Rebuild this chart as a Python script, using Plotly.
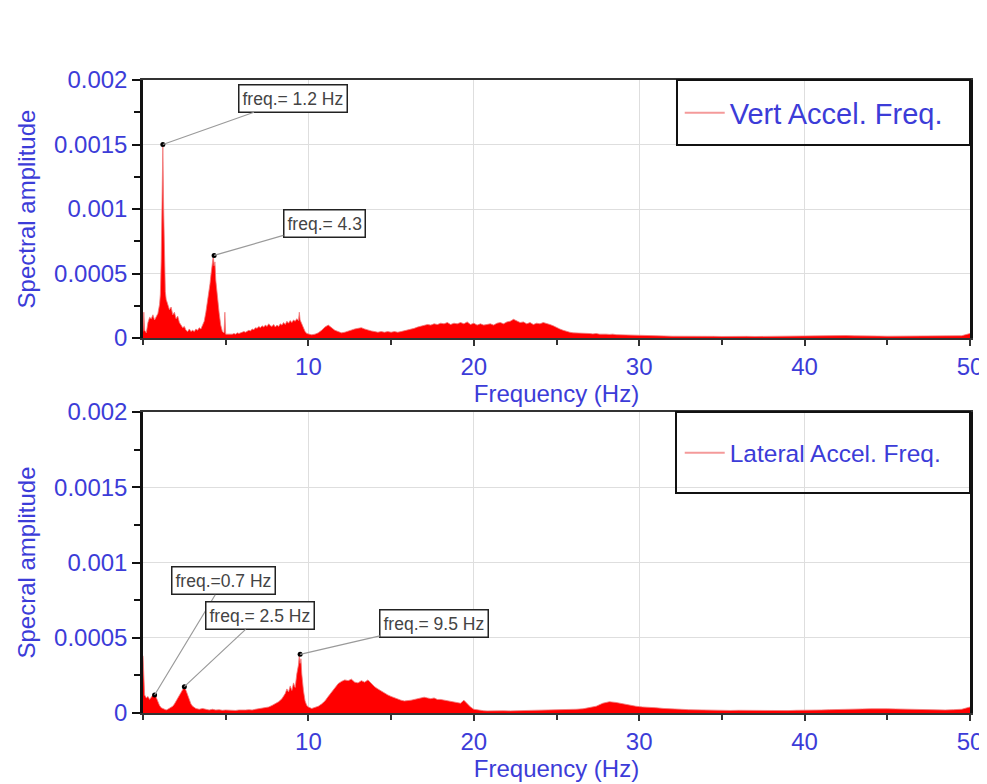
import plotly.graph_objects as go

# ---------------- data (amplitudes in units of 1e-4) ----------------
vert_freq = [
    0.0, 0.05, 0.1, 0.2, 0.3, 0.4, 0.5, 0.6, 0.7, 0.8, 0.9, 1.0, 1.05, 1.1, 1.15, 1.2, 1.25, 1.3, 1.35, 1.4,
    1.5, 1.6, 1.7, 1.8, 1.9, 2.0, 2.1, 2.2, 2.3, 2.4, 2.5, 2.6, 2.7, 2.8, 2.9, 3.0, 3.1, 3.2, 3.3, 3.4,
    3.5, 3.6, 3.7, 3.8, 3.9, 4.0, 4.05, 4.1, 4.15, 4.2, 4.25, 4.3, 4.35, 4.4, 4.5, 4.6, 4.7, 4.8, 4.9, 4.95,
    5.0, 5.1, 5.2, 5.3, 5.4, 5.5, 5.6, 5.7, 5.8, 5.9, 6.0, 6.1, 6.2, 6.3, 6.4, 6.5, 6.6, 6.7, 6.8, 6.9,
    7.0, 7.1, 7.2, 7.3, 7.4, 7.5, 7.6, 7.7, 7.8, 7.9, 8.0, 8.1, 8.2, 8.3, 8.4, 8.5, 8.6, 8.7, 8.8, 8.9,
    9.0, 9.1, 9.2, 9.3, 9.4, 9.45, 9.5, 9.6, 9.7, 9.8, 9.9, 10.0,
    10.2, 10.4, 10.6, 10.8, 11.0, 11.2, 11.4, 11.6, 11.8, 12.0, 12.2, 12.4, 12.6, 12.8, 13.0, 13.2, 13.4, 13.6, 13.8, 14.0,
    14.2, 14.4, 14.6, 14.8, 15.0, 15.2, 15.4, 15.6, 15.8, 16.0, 16.2, 16.4, 16.6, 16.8, 17.0, 17.2, 17.4, 17.6, 17.8, 18.0,
    18.2, 18.4, 18.6, 18.8, 19.0, 19.2, 19.4, 19.6, 19.8, 20.0, 20.2, 20.4, 20.6, 20.8, 21.0, 21.2, 21.4, 21.6, 21.8, 22.0,
    22.2, 22.4, 22.6, 22.8, 23.0, 23.2, 23.4, 23.6, 23.8, 24.0, 24.2, 24.4, 24.6, 24.8, 25.0, 25.2, 25.4, 25.6, 25.8, 26.0,
    26.2, 26.4, 26.6, 26.8, 27.0, 27.2, 27.4, 27.6, 27.8, 28.0, 28.2, 28.4, 28.6, 28.8, 29.0, 29.2, 29.4, 29.6, 29.8, 30.0,
    30.5, 31.0, 31.5, 32.0, 32.5, 33.0, 33.5, 34.0, 34.5, 35.0, 35.5, 36.0, 36.5, 37.0, 37.5, 38.0, 38.5, 39.0, 39.5, 40.0,
    40.5, 41.0, 41.5, 42.0, 42.5, 43.0, 43.5, 44.0, 44.5, 45.0, 45.5, 46.0, 46.5, 47.0, 47.5, 48.0, 48.5, 49.0, 49.5, 50.0,
]
vert_amp = [
    0.5, 2.0, 0.6, 0.4, 1.2, 1.6, 1.5, 1.8, 1.4, 1.7, 1.9, 2.6, 3.4, 6.0, 10.5, 15.0, 10.0, 5.5, 3.6, 3.0,
    2.6, 2.2, 2.4, 1.8, 2.0, 1.5, 1.7, 1.2, 1.0, 0.8, 0.9, 0.6, 0.5, 0.7, 0.5, 0.6, 0.5, 0.7, 0.6, 0.8,
    0.7, 1.0, 1.3, 2.0, 2.8, 3.6, 4.2, 4.8, 5.5, 6.0, 6.4, 5.6, 5.9, 4.5, 3.0, 2.0, 1.0, 0.5, 0.4, 2.0,
    0.3, 0.3, 0.25, 0.3, 0.3, 0.35, 0.3, 0.4, 0.35, 0.4, 0.45, 0.5, 0.45, 0.55, 0.6, 0.55, 0.7, 0.65, 0.8, 0.75,
    0.9, 0.8, 0.95, 0.85, 1.0, 0.9, 1.1, 0.95, 0.9, 1.05, 0.85, 1.0, 0.9, 1.1, 1.0, 1.2, 1.05, 1.3, 1.15, 1.35,
    1.2, 1.4, 1.3, 1.5, 1.35, 2.0, 1.4, 1.1, 0.8, 0.5, 0.35, 0.3,
    0.25, 0.3, 0.4, 0.6, 0.85, 1.0, 0.8, 0.6, 0.5, 0.4, 0.45, 0.55, 0.6, 0.7, 0.75, 0.8, 0.7, 0.6, 0.55, 0.5,
    0.45, 0.5, 0.45, 0.5, 0.45, 0.5, 0.45, 0.5, 0.55, 0.6, 0.7, 0.75, 0.85, 0.9, 0.95, 1.05, 1.0, 1.1, 1.05, 1.15,
    1.1, 1.2, 1.05, 1.15, 1.1, 1.2, 1.1, 1.25, 1.05, 1.15, 1.0, 1.1, 1.0, 1.05, 1.1, 1.0, 1.15, 1.2, 1.1, 1.25,
    1.3, 1.45, 1.3, 1.2, 1.25, 1.1, 1.2, 1.05, 1.15, 1.1, 1.2, 1.15, 1.05, 0.95, 0.8, 0.7, 0.6, 0.5, 0.45, 0.4,
    0.4, 0.35, 0.38, 0.35, 0.35, 0.32, 0.35, 0.3, 0.32, 0.3, 0.28, 0.3, 0.26, 0.25, 0.25, 0.22, 0.22, 0.2, 0.2, 0.18,
    0.18, 0.15, 0.16, 0.14, 0.15, 0.13, 0.14, 0.12, 0.13, 0.12, 0.14, 0.12, 0.13, 0.12, 0.13, 0.12, 0.14, 0.13, 0.15, 0.16,
    0.18, 0.2, 0.18, 0.2, 0.19, 0.17, 0.18, 0.16, 0.15, 0.14, 0.15, 0.13, 0.14, 0.15, 0.14, 0.16, 0.15, 0.17, 0.18, 0.35,
]

lat_freq = [
    0.0, 0.03, 0.06, 0.1, 0.2, 0.3, 0.4, 0.5, 0.6, 0.7, 0.8, 0.9, 1.0, 1.1, 1.2, 1.3, 1.4, 1.5, 1.6, 1.7,
    1.8, 1.9, 2.0, 2.1, 2.2, 2.3, 2.4, 2.5, 2.6, 2.7, 2.8, 2.9, 3.0, 3.1, 3.2, 3.4, 3.6, 3.8, 4.0, 4.2,
    4.4, 4.6, 4.8, 5.0, 5.2, 5.4, 5.6, 5.8, 6.0, 6.2, 6.4, 6.6, 6.8, 7.0, 7.2, 7.4, 7.6, 7.8, 8.0, 8.2,
    8.4, 8.6, 8.7, 8.8, 8.9, 9.0, 9.1, 9.2, 9.3, 9.4, 9.45, 9.5, 9.55, 9.6, 9.7, 9.8, 9.9, 10.0,
    10.2, 10.4, 10.6, 10.8, 11.0, 11.2, 11.4, 11.6, 11.8, 12.0, 12.2, 12.4, 12.6, 12.8, 13.0, 13.2, 13.4, 13.6, 13.8, 14.0,
    14.2, 14.4, 14.6, 14.8, 15.0, 15.2, 15.4, 15.6, 15.8, 16.0, 16.2, 16.4, 16.6, 16.8, 17.0, 17.2, 17.4, 17.6, 17.8, 18.0,
    18.2, 18.4, 18.6, 18.8, 19.0, 19.2, 19.4, 19.6, 19.8, 20.0, 20.2, 20.4, 20.6, 20.8, 21.0, 21.4, 21.8, 22.2, 22.6, 23.0,
    23.4, 23.8, 24.2, 24.6, 25.0, 25.4, 25.8, 26.2, 26.6, 27.0, 27.4, 27.8, 28.2, 28.6, 29.0, 29.4, 29.8, 30.2, 30.6, 31.0,
    31.5, 32.0, 32.5, 33.0, 33.5, 34.0, 34.5, 35.0, 35.5, 36.0, 36.5, 37.0, 37.5, 38.0, 38.5, 39.0, 39.5, 40.0, 40.5, 41.0,
    41.5, 42.0, 42.5, 43.0, 43.5, 44.0, 44.5, 45.0, 45.5, 46.0, 46.5, 47.0, 47.5, 48.0, 48.5, 49.0, 49.5, 50.0,
]
lat_amp = [
    3.8, 3.0, 1.5, 1.2, 1.0, 1.1, 0.9, 1.1, 1.2, 1.3, 1.0, 0.7, 0.5, 0.35, 0.3, 0.25, 0.2, 0.25, 0.3, 0.35,
    0.45, 0.6, 0.8, 1.0, 1.2, 1.4, 1.6, 1.75, 1.5, 1.2, 0.9, 0.6, 0.45, 0.35, 0.3, 0.25, 0.3, 0.25, 0.2, 0.25,
    0.2, 0.22, 0.18, 0.2, 0.18, 0.2, 0.17, 0.2, 0.18, 0.2, 0.22, 0.2, 0.25, 0.28, 0.3, 0.35, 0.4, 0.5, 0.6, 0.75,
    0.95, 1.3, 1.6, 1.4, 1.8, 1.5, 2.0, 1.7, 2.6, 3.2, 3.9, 3.3, 3.6, 2.6, 1.5, 0.8, 0.5, 0.4,
    0.3, 0.35, 0.45, 0.6, 0.8, 1.1, 1.4, 1.7, 1.95, 2.1, 2.2, 2.15, 2.25, 2.05, 2.0, 2.15, 2.05, 2.2, 1.95, 1.75,
    1.6, 1.45, 1.3, 1.2, 1.1, 1.0, 0.95, 0.85, 0.8, 0.8, 0.85, 0.9, 0.95, 1.0, 1.05, 1.0, 0.95, 1.0, 0.9, 0.9,
    0.85, 0.8, 0.75, 0.7, 0.7, 0.65, 0.85, 0.6, 0.4, 0.25, 0.2, 0.15, 0.15, 0.14, 0.15, 0.14, 0.15, 0.14, 0.15, 0.16,
    0.15, 0.17, 0.16, 0.18, 0.2, 0.2, 0.22, 0.25, 0.28, 0.35, 0.45, 0.65, 0.75, 0.7, 0.6, 0.5, 0.45, 0.4, 0.35, 0.35,
    0.3, 0.3, 0.25, 0.22, 0.2, 0.2, 0.18, 0.18, 0.17, 0.18, 0.17, 0.16, 0.17, 0.16, 0.17, 0.16, 0.18, 0.17, 0.18, 0.2,
    0.22, 0.22, 0.24, 0.25, 0.27, 0.28, 0.3, 0.28, 0.27, 0.25, 0.24, 0.22, 0.2, 0.2, 0.2, 0.22, 0.25, 0.4,
]
AMP_UNIT = 1e-4

vert_peak_freq = [1.2, 4.3]
vert_peak_amp = [0.0015, 0.00064]
vert_peak_labels = ["freq.= 1.2 Hz", "freq.= 4.3"]

lat_peak_freq = [0.7, 2.5, 9.5]
lat_peak_amp = [0.00012, 0.000175, 0.00039]
lat_peak_labels = ["freq.=0.7 Hz", "freq.= 2.5 Hz", "freq.= 9.5 Hz"]

x_ticks = [10, 20, 30, 40, 50]
y_ticks = [0, 0.0005, 0.001, 0.0015, 0.002]
y_ticktext = ["0", "0.0005", "0.001", "0.0015", "0.002"]

# ---------------- styling ----------------
BLUE = "#3c3cd8"
FONT = "Arial, 'Liberation Sans', sans-serif"
FILL = "#ff0000"
LINE = "#f07a7a"
LEG_LINE = "#f49a9a"

fig = go.Figure()

fig.add_trace(go.Scatter(
    x=vert_freq, y=[v * AMP_UNIT for v in vert_amp], mode="lines",
    line=dict(color=LINE, width=0.8), fill="tozeroy", fillcolor=FILL,
    name="Vert Accel. Freq.", xaxis="x", yaxis="y", showlegend=False, legendgroup="vert",
))
fig.add_trace(go.Scatter(
    x=[None], y=[None], mode="lines", line=dict(color=LEG_LINE, width=2),
    name="Vert Accel. Freq.", xaxis="x", yaxis="y", legend="legend", legendgroup="vert",
))
fig.add_trace(go.Scatter(
    x=vert_peak_freq, y=vert_peak_amp, mode="markers",
    marker=dict(color="black", size=5), showlegend=False, xaxis="x", yaxis="y",
))
fig.add_trace(go.Scatter(
    x=lat_freq, y=[v * AMP_UNIT for v in lat_amp], mode="lines",
    line=dict(color=LINE, width=0.8), fill="tozeroy", fillcolor=FILL,
    name="Lateral Accel. Freq.", xaxis="x2", yaxis="y2", showlegend=False, legendgroup="lat",
))
fig.add_trace(go.Scatter(
    x=[None], y=[None], mode="lines", line=dict(color=LEG_LINE, width=2),
    name="Lateral Accel. Freq.", xaxis="x2", yaxis="y2", legend="legend2", legendgroup="lat",
))
fig.add_trace(go.Scatter(
    x=lat_peak_freq, y=lat_peak_amp, mode="markers",
    marker=dict(color="black", size=5), showlegend=False, xaxis="x2", yaxis="y2",
))

xaxis_common = dict(
    range=[0, 50], tickvals=x_ticks, showgrid=True, gridcolor="#dedede", gridwidth=1,
    showline=True, linecolor="#333333", linewidth=1.5, mirror=True,
    ticks="outside", ticklen=6, tickcolor="#333333", tickwidth=1.5,
    minor=dict(dtick=5, ticks="outside", ticklen=5, tickcolor="#333333", showgrid=False),
    tickfont=dict(family=FONT, size=24, color=BLUE), zeroline=False,
)
yaxis_common = dict(
    range=[0, 0.002], tickvals=y_ticks, ticktext=y_ticktext, showgrid=True, gridcolor="#dedede",
    showline=True, linecolor="#111111", linewidth=2.5, mirror=True,
    ticks="outside", ticklen=8, tickcolor="#111111", tickwidth=1.5,
    minor=dict(tickvals=[0.00025, 0.00075, 0.00125, 0.00175], ticks="outside", ticklen=6,
               tickcolor="#111111", showgrid=False),
    tickfont=dict(family=FONT, size=24, color=BLUE), zeroline=False,
)
TITLE_FONT = dict(family=FONT, size=24, color=BLUE)

fig.update_layout(
    width=987, height=784,
    margin=dict(l=135, r=25, t=72, b=79),
    paper_bgcolor="white", plot_bgcolor="white",
    font=dict(family=FONT, color=BLUE),
    xaxis=dict(**xaxis_common, domain=[0, 1], anchor="y",
               title=dict(text="Frequency (Hz)", font=TITLE_FONT, standoff=3)),
    yaxis=dict(**yaxis_common, domain=[0.5924, 1], anchor="x",
               title=dict(text="Spectral amplitude", font=TITLE_FONT, standoff=12)),
    xaxis2=dict(**xaxis_common, domain=[0, 1], anchor="y2",
                title=dict(text="Frequency (Hz)", font=TITLE_FONT, standoff=3)),
    yaxis2=dict(**yaxis_common, domain=[0, 0.4755], anchor="x2",
                title=dict(text="Specral amplitude", font=TITLE_FONT, standoff=12)),
    legend=dict(x=0.649, y=0.948, xanchor="left", yanchor="middle", itemwidth=40,
                font=dict(family=FONT, size=29, color=BLUE), bgcolor="rgba(0,0,0,0)", borderwidth=0),
    legend2=dict(x=0.649, y=0.411, xanchor="left", yanchor="middle", itemwidth=40,
                 font=dict(family=FONT, size=24.5, color=BLUE), bgcolor="rgba(0,0,0,0)", borderwidth=0),
    showlegend=True,
)

# legend frames
fig.add_shape(type="rect", xref="x domain", yref="y domain", x0=0.6457, x1=1, y0=0.748, y1=1,
              line=dict(color="#111111", width=2), fillcolor="rgba(0,0,0,0)", layer="above")
fig.add_shape(type="rect", xref="x2 domain", yref="y2 domain", x0=0.6445, x1=1, y0=0.731, y1=1,
              line=dict(color="#111111", width=2), fillcolor="rgba(0,0,0,0)", layer="above")

# peak callouts
ANN_FONT = dict(family=FONT, size=17.5, color="#444444")
vert_offsets = [(130, -46), (110, -32)]
for f, a, t, (ax, ay) in zip(vert_peak_freq, vert_peak_amp, vert_peak_labels, vert_offsets):
    fig.add_annotation(x=f, y=a, xref="x", yref="y", text=t, showarrow=True, arrowhead=0,
                       arrowcolor="#9a9a9a", arrowwidth=1.2, ax=ax, ay=ay, font=ANN_FONT,
                       bgcolor="white", bordercolor="#222222", borderwidth=1.5, borderpad=3)
lat_offsets = [(69, -114), (76, -71), (134, -31)]
for f, a, t, (ax, ay) in zip(lat_peak_freq, lat_peak_amp, lat_peak_labels, lat_offsets):
    fig.add_annotation(x=f, y=a, xref="x2", yref="y2", text=t, showarrow=True, arrowhead=0,
                       arrowcolor="#9a9a9a", arrowwidth=1.2, ax=ax, ay=ay, font=ANN_FONT,
                       bgcolor="white", bordercolor="#222222", borderwidth=1.5, borderpad=3)

fig.write_html("out.html")
